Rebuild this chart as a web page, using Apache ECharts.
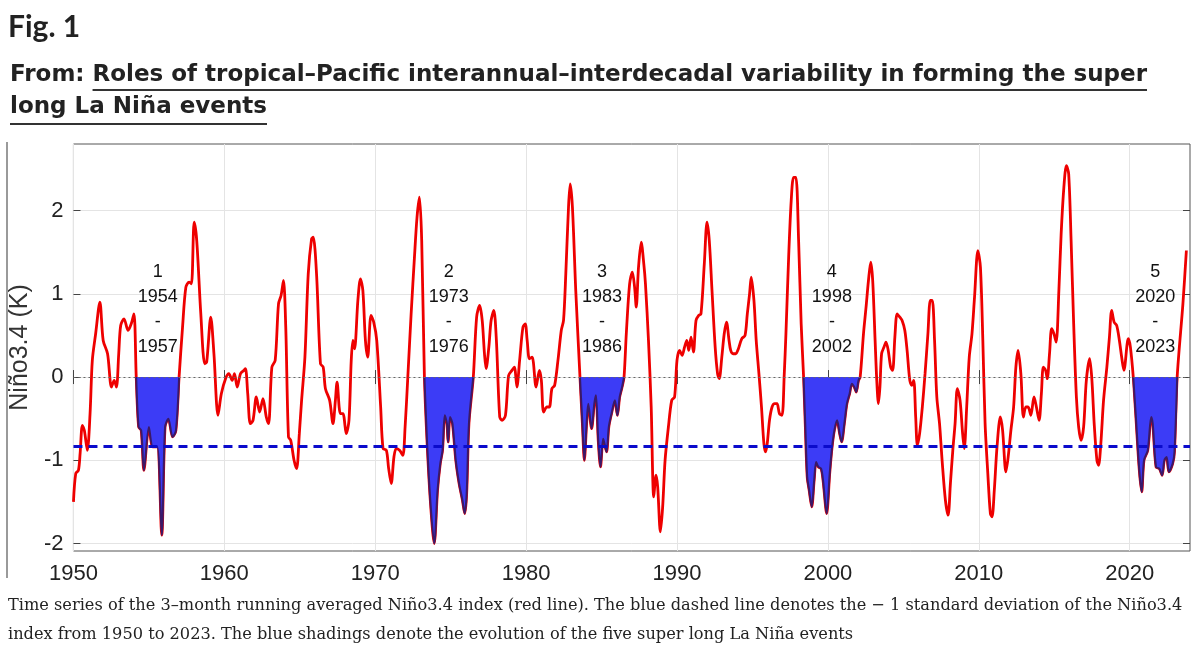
<!DOCTYPE html>
<html>
<head>
<meta charset="utf-8">
<title>Fig. 1</title>
<script src="https://cdn.jsdelivr.net/npm/echarts@6/dist/echarts.min.js"></script>
<style>
	html, body { margin: 0; padding: 0; background: #fff; }
	#echartsMain { width: 1200px; height: 660px; }
</style>
</head>
<body>
<div id="echartsMain"></div>
<script>
//时间（年，小数表示月份）
var years = [
	1950.00, 1950.15, 1950.33, 1950.44, 1950.59, 1950.72, 1950.92, 1951.10, 1951.25, 1951.47,
	1951.75, 1951.97, 1952.26, 1952.52, 1952.70, 1952.85, 1953.00, 1953.13, 1953.35, 1953.62,
	1953.83, 1954.01, 1954.16, 1954.32, 1954.49, 1954.67, 1955.00, 1955.26, 1955.55, 1955.85,
	1956.07, 1956.29, 1956.57, 1956.79, 1957.00, 1957.23, 1957.45, 1957.67, 1957.82, 1958.00,
	1958.17, 1958.44, 1958.70, 1958.83, 1959.10, 1959.31, 1959.58, 1959.80, 1960.08, 1960.30,
	1960.52, 1960.67, 1960.85, 1961.07, 1961.29, 1961.40, 1961.55, 1961.72, 1961.90, 1962.12,
	1962.34, 1962.56, 1962.78, 1962.93, 1963.15, 1963.37, 1963.59, 1963.76, 1963.92, 1964.07,
	1964.25, 1964.40, 1964.62, 1964.79, 1964.97, 1965.12, 1965.34, 1965.56, 1965.78, 1965.89,
	1966.11, 1966.37, 1966.55, 1966.70, 1966.98, 1967.20, 1967.36, 1967.47, 1967.69, 1967.86,
	1968.08, 1968.26, 1968.41, 1968.52, 1968.63, 1968.85, 1969.02, 1969.18, 1969.35, 1969.50,
	1969.72, 1969.90, 1970.10, 1970.36, 1970.52, 1970.74, 1970.89, 1971.06, 1971.24, 1971.39,
	1971.61, 1971.83, 1971.98, 1972.16, 1972.38, 1972.60, 1972.77, 1972.93, 1973.08, 1973.26,
	1973.43, 1973.65, 1973.91, 1974.13, 1974.31, 1974.46, 1974.61, 1974.75, 1974.83, 1974.96,
	1975.12, 1975.34, 1975.56, 1975.78, 1975.93, 1976.06, 1976.21, 1976.50, 1976.72, 1976.92,
	1977.09, 1977.24, 1977.35, 1977.53, 1977.68, 1977.86, 1978.03, 1978.25, 1978.41, 1978.63,
	1978.84, 1979.06, 1979.22, 1979.39, 1979.57, 1979.79, 1979.94, 1980.07, 1980.22, 1980.40,
	1980.66, 1980.88, 1981.01, 1981.16, 1981.38, 1981.54, 1981.71, 1981.89, 1982.11, 1982.33,
	1982.48, 1982.63, 1982.81, 1982.92, 1983.07, 1983.29, 1983.57, 1983.73, 1983.86, 1984.01,
	1984.12, 1984.34, 1984.52, 1984.63, 1984.78, 1984.93, 1985.11, 1985.33, 1985.48, 1985.66,
	1985.88, 1986.05, 1986.20, 1986.36, 1986.49, 1986.64, 1986.86, 1987.04, 1987.19, 1987.30,
	1987.45, 1987.63, 1987.80, 1987.91, 1988.11, 1988.29, 1988.46, 1988.61, 1988.72, 1988.90,
	1989.05, 1989.21, 1989.43, 1989.65, 1989.84, 1990.00, 1990.17, 1990.34, 1990.50, 1990.65,
	1990.78, 1990.93, 1991.09, 1991.26, 1991.44, 1991.59, 1991.81, 1991.99, 1992.14, 1992.32,
	1992.53, 1992.69, 1992.80, 1992.97, 1993.13, 1993.28, 1993.45, 1993.56, 1993.72, 1993.89,
	1994.07, 1994.29, 1994.51, 1994.66, 1994.81, 1994.92, 1995.10, 1995.25, 1995.43, 1995.60,
	1995.76, 1995.87, 1995.98, 1996.13, 1996.30, 1996.48, 1996.63, 1996.79, 1996.96, 1997.11,
	1997.22, 1997.40, 1997.57, 1997.73, 1997.88, 1998.06, 1998.23, 1998.39, 1998.50, 1998.63,
	1998.76, 1998.93, 1999.09, 1999.22, 1999.37, 1999.55, 1999.68, 1999.92, 2000.12, 2000.28,
	2000.43, 2000.61, 2000.78, 2000.91, 2001.09, 2001.26, 2001.44, 2001.59, 2001.75, 2001.88,
	2002.03, 2002.14, 2002.36, 2002.53, 2002.69, 2002.84, 2002.97, 2003.13, 2003.24, 2003.35,
	2003.45, 2003.56, 2003.72, 2003.85, 2004.00, 2004.16, 2004.29, 2004.44, 2004.59, 2004.77,
	2004.92, 2005.10, 2005.25, 2005.43, 2005.56, 2005.69, 2005.82, 2005.93, 2006.08, 2006.26,
	2006.44, 2006.63, 2006.79, 2006.92, 2007.07, 2007.22, 2007.40, 2007.57, 2007.79, 2007.97,
	2008.12, 2008.28, 2008.43, 2008.58, 2008.76, 2008.93, 2009.04, 2009.20, 2009.37, 2009.55,
	2009.72, 2009.94, 2010.11, 2010.27, 2010.42, 2010.60, 2010.77, 2010.88, 2011.03, 2011.21,
	2011.43, 2011.58, 2011.80, 2011.95, 2012.13, 2012.31, 2012.46, 2012.61, 2012.79, 2012.96,
	2013.12, 2013.27, 2013.45, 2013.66, 2013.82, 2014.00, 2014.15, 2014.28, 2014.43, 2014.54,
	2014.69, 2014.83, 2014.98, 2015.13, 2015.31, 2015.46, 2015.64, 2015.81, 2015.96, 2016.12,
	2016.29, 2016.47, 2016.62, 2016.78, 2016.95, 2017.13, 2017.35, 2017.50, 2017.65, 2017.83,
	2017.94, 2018.09, 2018.27, 2018.49, 2018.66, 2018.81, 2018.97, 2019.14, 2019.32, 2019.47,
	2019.62, 2019.91, 2020.05, 2020.24, 2020.40, 2020.64, 2020.80, 2020.95, 2021.20, 2021.43,
	2021.53, 2021.75, 2021.97, 2022.15, 2022.30, 2022.45, 2022.60, 2022.85, 2022.97, 2023.15,
	2023.53, 2023.76
];

//Niño3.4 指数（3个月滑动平均，K）
var nino34 = [
	-1.50, -1.16, -1.12, -0.92, -0.58, -0.64, -0.88, -0.44,  0.20,  0.52,
	 0.90,  0.44,  0.28, -0.12, -0.04, -0.12,  0.28,  0.62,  0.70,  0.56,
	 0.64,  0.76,  0.00, -0.60, -0.64, -1.12, -0.60, -0.84, -0.84, -1.90,
	-0.60, -0.50, -0.72, -0.64,  0.00,  0.60,  1.08,  1.14,  1.12,  1.86,
	 1.64,  0.76,  0.16,  0.18,  0.72,  0.28, -0.46, -0.20, -0.02,  0.04,
	-0.04,  0.04, -0.12,  0.04,  0.08,  0.10, -0.20, -0.56, -0.52, -0.24,
	-0.42, -0.26, -0.48, -0.56,  0.12,  0.20,  0.88,  0.98,  1.16,  0.60,
	-0.72, -0.76, -1.00, -1.10, -0.68, -0.28,  0.24,  1.24,  1.66,  1.68,
	 1.24,  0.16,  0.12, -0.14, -0.28, -0.56, -0.28, -0.06, -0.44, -0.44,
	-0.68, -0.52,  0.20,  0.44,  0.34,  0.92,  1.18,  1.04,  0.44,  0.24,
	 0.74,  0.66,  0.44, -0.36, -0.86, -0.88, -1.10, -1.28, -0.96, -0.86,
	-0.88, -0.94, -0.60,  0.00,  0.76,  1.44,  1.92,  2.16,  1.64,  0.00,
	-0.76, -1.48, -2.00, -1.36, -1.04, -0.88, -0.46, -0.56, -0.78, -0.48,
	-0.56, -1.00, -1.28, -1.48, -1.64, -1.40, -0.56,  0.00,  0.72,  0.86,
	 0.68,  0.28,  0.10,  0.36,  0.68,  0.80,  0.44, -0.48, -0.52, -0.46,
	 0.02,  0.08,  0.12, -0.12,  0.20,  0.60,  0.64,  0.44,  0.22,  0.24,
	-0.12,  0.08, -0.04, -0.42, -0.36, -0.36, -0.14, -0.10,  0.20,  0.56,
	 0.68,  1.24,  2.04,  2.32,  2.04,  1.04,  0.00, -0.56, -1.00, -0.56,
	-0.32, -0.62, -0.32, -0.22, -0.76, -1.08, -0.74, -0.90, -0.60, -0.44,
	-0.28, -0.46, -0.24, -0.12,  0.00,  0.52,  1.12,  1.26,  1.08,  0.84,
	 1.32,  1.62,  1.36,  1.12,  0.44, -0.36, -1.44, -1.18, -1.32, -1.86,
	-1.56, -1.00, -0.60, -0.28, -0.24,  0.20,  0.32,  0.26,  0.36,  0.44,
	 0.32,  0.48,  0.30,  0.68,  0.74,  0.76,  1.36,  1.86,  1.64,  1.04,
	 0.36,  0.04, -0.02,  0.24,  0.52,  0.66,  0.44,  0.32,  0.28,  0.28,
	 0.34,  0.46,  0.50,  0.76,  1.00,  1.20,  0.92,  0.44,  0.04, -0.36,
	-0.80, -0.90, -0.80, -0.52, -0.36, -0.32, -0.32, -0.44, -0.46,  0.04,
	 0.52,  1.44,  2.12,  2.40,  2.40,  1.64,  0.64,  0.00, -0.56, -1.20,
	-1.36, -1.56, -1.24, -1.02, -1.08, -1.10, -1.24, -1.64, -1.16, -0.84,
	-0.64, -0.52, -0.68, -0.78, -0.56, -0.32, -0.20, -0.08, -0.12, -0.18,
	-0.04,  0.00,  0.52,  0.84,  1.16,  1.38,  1.16,  0.44, -0.04, -0.32,
	-0.12,  0.28,  0.36,  0.42,  0.32,  0.12,  0.08,  0.48,  0.76,  0.72,
	 0.68,  0.56,  0.32, -0.04, -0.10, -0.04, -0.48, -0.82, -0.68, -0.36,
	 0.04,  0.52,  0.92,  0.92,  0.44, -0.24, -0.56, -1.00, -1.48, -1.66,
	-1.28, -0.88, -0.56, -0.14, -0.28, -0.68, -0.86, -0.36,  0.24,  0.52,
	 0.96,  1.52,  1.32,  0.44, -0.56, -1.16, -1.64, -1.68, -1.36, -0.84,
	-0.48, -0.64, -1.14, -0.96, -0.64, -0.36,  0.12,  0.32,  0.04, -0.48,
	-0.36, -0.36, -0.46, -0.24, -0.36, -0.52, -0.20,  0.12,  0.08, -0.02,
	 0.28,  0.58,  0.52,  0.42,  1.04,  1.72,  2.28,  2.54,  2.44,  1.64,
	 0.64, -0.24, -0.60, -0.76, -0.60, -0.04,  0.22, -0.04, -0.56, -1.00,
	-1.06, -0.80, -0.28,  0.12,  0.48,  0.80,  0.66,  0.62,  0.44,  0.24,
	 0.08,  0.46,  0.36,  0.00, -0.44, -1.12, -1.38, -1.00, -0.88, -0.48,
	-0.56, -1.08, -1.10, -1.18, -1.00, -0.96, -1.14, -1.04, -0.90,  0.00,
	 0.88,  1.52
];

//-1 倍标准差
var minusOneStd = -0.83;

//五次超长拉尼娜事件
var eventNo = ['1', '2', '3', '4', '5'];
var eventStart = [1954.16, 1973.26, 1983.57, 1998.39, 2020.24];
var eventEnd = [1957.00, 1976.50, 1986.49, 2002.14, 2023.15];
var eventFrom = ['1954', '1973', '1983', '1998', '2020'];
var eventTo = ['1957', '1976', '1986', '2002', '2023'];

//刻度
var xTicks = [1950, 1960, 1970, 1980, 1990, 2000, 2010, 2020];
var yTicks = [-2, -1, 0, 1, 2];

//文字
var figTitle = 'Fig. 1';
var fromText = 'From: ';
var linkLine1 = 'Roles of tropical\u2013Pacific interannual\u2013interdecadal variability in forming the super';
var linkLine2 = 'long La Ni\u00f1a events';
var caption1 = 'Time series of the 3\u2013month running averaged Ni\u00f1o3.4 index (red line). The blue dashed line denotes the \u2212 1 standard deviation of the Ni\u00f1o3.4';
var caption2 = 'index from 1950 to 2023. The blue shadings denote the evolution of the five super long La Ni\u00f1a events';

var lineData = years.map(function (y, i) { return [y, nino34[i]]; });

var headFont = 'bold 23px "DejaVu Sans"';
var measureCtx = document.createElement('canvas').getContext('2d');
function textWidth(str, font) {
	measureCtx.font = font;
	return measureCtx.measureText(str).width;
}
var fromW = textWidth(fromText, headFont);
var link1W = textWidth(linkLine1, headFont);
var link2W = textWidth(linkLine2, headFont);

var myChart = echarts.init(document.getElementById('echartsMain'));

var axisFont = 'Liberation Sans';

//阴影事件系列
var eventSeries = eventStart.map(function (s, k) {
	return {
		name: 'event' + eventNo[k],
		type: 'line',
		data: lineData.filter(function (p) { return p[0] >= s && p[0] <= eventEnd[k]; }),
		showSymbol: false,
		smooth: 0.3,
		z: 4,
		lineStyle: { color: '#3a1968', width: 2 },
		areaStyle: { color: '#3c3cf6', opacity: 1, origin: 0 },
		silent: true
	};
});

var option = {
	animation: false,
	backgroundColor: '#fff',
	grid: {
		left: 65, right: 10, top: 144, bottom: 109,
		show: true, borderColor: '#555', borderWidth: 1
	},
	xAxis: [{
		type: 'value', min: 1950, max: 2024,
		axisLine: { show: false },
		axisTick: { inside: true, length: 7, lineStyle: { color: '#444' }, customValues: xTicks },
		axisLabel: {
			customValues: xTicks, fontSize: 22, color: '#222', margin: 12, fontFamily: axisFont,
			formatter: function (v) { return String(v); }
		},
		splitLine: { show: true, lineStyle: { color: '#e4e4e4' } }
	}, {
		type: 'value', min: 1950, max: 2024, position: 'top',
		axisLine: { show: false },
		axisTick: { inside: true, length: 7, lineStyle: { color: '#444' }, customValues: xTicks },
		axisLabel: { show: false },
		splitLine: { show: false }
	}],
	yAxis: [{
		type: 'value', min: -2.09, max: 2.8,
		name: 'Ni\u00f1o3.4 (K)', nameLocation: 'middle', nameGap: 29,
		nameTextStyle: { fontSize: 25, color: '#333', fontFamily: axisFont },
		axisLine: { show: false },
		axisTick: { inside: true, length: 7, lineStyle: { color: '#444' }, customValues: yTicks },
		axisLabel: { customValues: yTicks, fontSize: 22, color: '#222', margin: 10, fontFamily: axisFont },
		splitLine: { show: true, lineStyle: { color: '#e4e4e4' } }
	}, {
		type: 'value', min: -2.09, max: 2.8, position: 'right',
		axisLine: { show: false },
		axisTick: { inside: true, length: 7, lineStyle: { color: '#444' }, customValues: yTicks },
		axisLabel: { show: false },
		splitLine: { show: false }
	}],
	series: [{
		name: 'Nino3.4',
		type: 'line',
		data: lineData,
		showSymbol: false,
		smooth: 0.3,
		z: 3,
		lineStyle: { color: '#ee0000', width: 2.8 },
		markLine: {
			silent: true,
			symbol: 'none',
			label: { show: false },
			data: [
				{ yAxis: 0, lineStyle: { color: '#666', width: 1, type: [2, 3] } },
				{ yAxis: minusOneStd, lineStyle: { color: '#0b0bcc', width: 3, type: [9, 6] } }
			]
		}
	}].concat(eventSeries).concat([{
		name: 'labels',
		type: 'scatter',
		symbolSize: 0,
		z: 6,
		silent: true,
		itemStyle: { opacity: 1 },
		data: eventStart.map(function (s, k) { return [(s + eventEnd[k]) / 2, 0.81]; }),
		label: {
			show: true,
			position: 'inside',
			fontSize: 18,
			lineHeight: 25,
			color: '#111',
			opacity: 1,
			fontFamily: axisFont,
			formatter: function (p) {
				var k = p.dataIndex;
				return eventNo[k] + '\n' + eventFrom[k] + '\n-\n' + eventTo[k];
			}
		}
	}]),
	graphic: [
		{ type: 'text', x: 8, y: 27, style: { text: figTitle, font: 'bold 30px Lato', fill: '#222', verticalAlign: 'middle', textVerticalAlign: 'middle' } },
		{ type: 'text', x: 10, y: 75, style: { text: fromText, font: headFont, fill: '#222', verticalAlign: 'middle', textVerticalAlign: 'middle' } },
		{ type: 'text', x: 10 + fromW, y: 75, style: { text: linkLine1, font: headFont, fill: '#222', verticalAlign: 'middle', textVerticalAlign: 'middle' } },
		{ type: 'line', shape: { x1: 10 + fromW, y1: 90, x2: 10 + fromW + link1W, y2: 90 }, style: { stroke: '#333', lineWidth: 2 } },
		{ type: 'text', x: 10, y: 107, style: { text: linkLine2, font: headFont, fill: '#222', verticalAlign: 'middle', textVerticalAlign: 'middle' } },
		{ type: 'line', shape: { x1: 10, y1: 124, x2: 10 + link2W, y2: 124 }, style: { stroke: '#333', lineWidth: 2 } },
		{ type: 'line', shape: { x1: 7, y1: 142, x2: 7, y2: 578 }, style: { stroke: '#9a9a9a', lineWidth: 2 } },
		{ type: 'text', x: 8, y: 606, style: { text: caption1, font: '16.2px "DejaVu Serif"', fill: '#222', verticalAlign: 'middle', textVerticalAlign: 'middle' } },
		{ type: 'text', x: 8, y: 635, style: { text: caption2, font: '16.2px "DejaVu Serif"', fill: '#222', verticalAlign: 'middle', textVerticalAlign: 'middle' } }
	]
};

myChart.setOption(option);
</script>
</body>
</html>
